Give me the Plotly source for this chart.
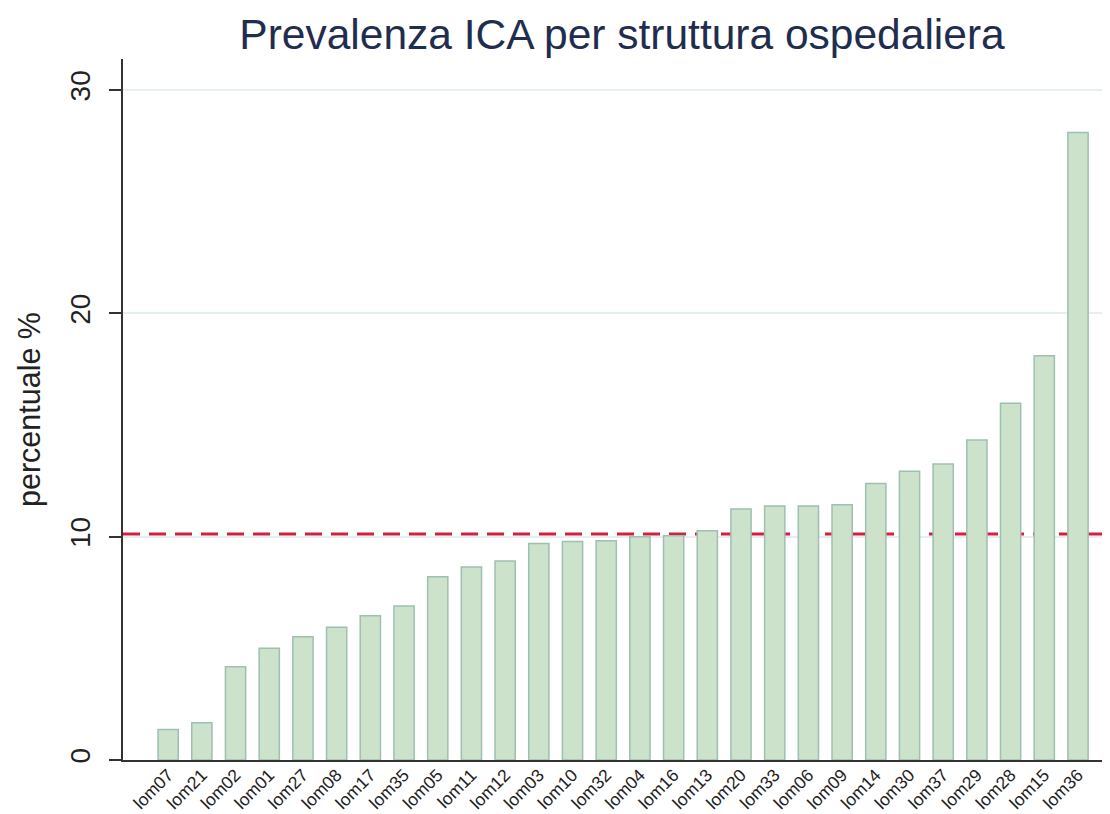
import plotly.graph_objects as go

categories = ["lom07", "lom21", "lom02", "lom01", "lom27", "lom08", "lom17", "lom35",
              "lom05", "lom11", "lom12", "lom03", "lom10", "lom32", "lom04", "lom16",
              "lom13", "lom20", "lom33", "lom06", "lom09", "lom14", "lom30", "lom37",
              "lom29", "lom28", "lom15", "lom36"]
values = [1.37, 1.67, 4.18, 5.00, 5.52, 5.94, 6.46, 6.90,
          8.21, 8.64, 8.91, 9.69, 9.78, 9.82, 10.00, 10.04,
          10.27, 11.24, 11.37, 11.37, 11.43, 12.38, 12.93, 13.26,
          14.33, 15.97, 18.10, 28.10]
mean_value = 10.12
y_ticks = [0, 10, 20, 30]

FONT = "Liberation Sans, Arial, sans-serif"

fig = go.Figure()
fig.add_trace(go.Bar(
    x=categories, y=values,
    marker=dict(color="#cde2cb", line=dict(color="#9ebfb1", width=1.5)),
    width=0.6,
    showlegend=False,
))

fig.add_shape(type="line", xref="paper", yref="y", x0=0, x1=1,
              y0=mean_value, y1=mean_value,
              line=dict(color="#d0213f", width=3, dash="17px,9px"),
              layer="below")

fig.update_layout(
    width=1110, height=814,
    margin=dict(l=115, r=8, t=51, b=62, autoexpand=False),
    paper_bgcolor="white", plot_bgcolor="white",
    font=dict(family=FONT, color="#222222"),
    title=dict(text="Prevalenza ICA per struttura ospedaliera",
               font=dict(size=42.5, color="#1f2d4e", family=FONT),
               x=614 / 1110, xanchor="center", xref="container",
               y=1 - 26 / 814, yanchor="middle", yref="container"),
    bargap=0.4,
    annotations=[dict(text="percentuale %", textangle=-90,
                      xref="paper", yref="paper",
                      x=-93 / 987, y=(760 - 410) / 701,
                      xanchor="center", yanchor="middle",
                      showarrow=False,
                      font=dict(size=30.5, color="#222222", family=FONT))],
)

fig.update_xaxes(
    type="category",
    range=[-1.34, 27.95],
    tickangle=-45,
    tickfont=dict(size=17.5, color="#222222"),
    ticklabelstandoff=-4,
    showline=True, linecolor="#333333", linewidth=2,
    ticks="", showgrid=False, zeroline=False,
    automargin=False,
)
fig.update_yaxes(
    range=[0, 31.39],
    tickvals=y_ticks,
    tickangle=-90,
    tickfont=dict(size=28, color="#222222"),
    ticks="outside", ticklen=12, tickwidth=2, tickcolor="#333333",
    ticklabelstandoff=8,
    showline=True, linecolor="#333333", linewidth=2,
    showgrid=True, gridcolor="#e5eef1", gridwidth=1.5,
    zeroline=False,
    automargin=False,
)

fig.write_html("out.html")
